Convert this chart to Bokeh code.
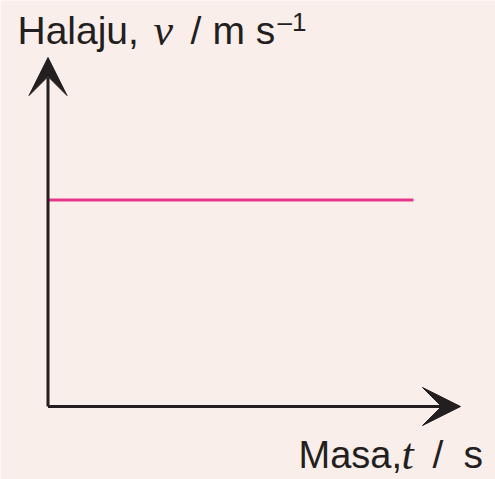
from bokeh.plotting import figure
from bokeh.models import Arrow, VeeHead, Label, Range1d
from bokeh.embed import file_html
from bokeh.resources import INLINE

# ---- data ----
time_s = [0, 10]          # t / s
speed = [5, 5]            # v / m s^-1 (constant)
x_axis_label = "Masa,"
y_axis_label = "Halaju,"

# ---- layout (pixel geometry of the reference) ----
W, H = 495, 479
X0_PX, Y0_PX = 47.5, 406.0          # origin in pixels
SX = (413 - X0_PX) / time_s[-1]     # px per second
SY = (Y0_PX - 199.5) / speed[0]     # px per m/s


def dx(px):
    return (px - X0_PX) / SX


def dy(py):
    return (Y0_PX - py) / SY


BG = "#FAEEEA"
INK = "#231F20"
MAG = "#E4378C"
SANS = "Liberation Sans"
SERIF = "Liberation Serif"

p = figure(width=W, height=H, output_backend="svg", toolbar_location=None,
           x_axis_type=None, y_axis_type=None, min_border=0,
           x_range=Range1d(dx(0), dx(W)), y_range=Range1d(dy(H), dy(0)))
p.background_fill_color = BG
p.border_fill_color = BG
p.outline_line_color = None
p.xgrid.visible = False
p.ygrid.visible = False

# data line
p.line(time_s, speed, line_width=3, line_color=MAG)

# axes with arrow heads
x_tip = dx(460)
y_tip = dy(57)
p.add_layout(Arrow(x_start=0, y_start=0, x_end=x_tip, y_end=0, line_width=3, line_color=INK,
                   end=VeeHead(size=38, fill_color=INK, line_color=INK, line_width=1)))
p.add_layout(Arrow(x_start=0, y_start=0, x_end=0, y_end=y_tip, line_width=3, line_color=INK,
                   end=VeeHead(size=38, fill_color=INK, line_color=INK, line_width=1)))


def lab(text, px, py, size, font, style="normal"):
    py = py - 15   # compensate renderer baseline offset
    p.add_layout(Label(x=dx(px), y=dy(py), text=text, text_font=font,
                       text_font_size=f"{size}px", text_font_style=style,
                       text_color=INK, text_baseline="alphabetic", text_align="left"))


# y-axis title: Halaju, v / m s^-1
lab(y_axis_label, 17, 45, 39, SANS)
lab("v", 153, 45, 44, SERIF, "italic")
lab("/", 190, 45, 39, SANS)
lab("m s", 212, 45, 39, SANS)
lab("\u20131", 277, 36, 26, SANS)

# x-axis title: Masa, t / s
lab(x_axis_label, 298, 469, 38, SANS)
lab("t", 401, 469, 44, SERIF, "italic")
lab("/", 432, 469, 39, SANS)
lab("s", 463, 469, 39, SANS)

open("out.html", "w").write(file_html(p, INLINE))
